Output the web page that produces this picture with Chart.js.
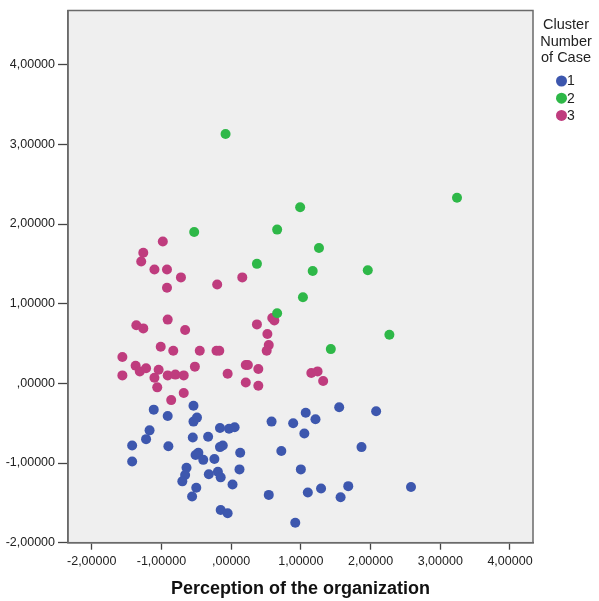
<!DOCTYPE html>
<html><head><meta charset="utf-8">
<script src="https://cdn.jsdelivr.net/npm/chart.js@4.4.1/dist/chart.umd.min.js"></script>
<style>html,body{margin:0;padding:0;background:#fff;overflow:hidden}#wrap{width:599px;height:601px;position:relative}</style>
</head><body><div id="wrap"><canvas id="c" width="599" height="601"></canvas></div>
<script>
const clusterLabels = ['1', '2', '3'];
const clusterColors = ['#3d57ae', '#2eb848', '#bf3c7e'];

const cluster1X = [-1.11,-0.91,-0.54,-0.54,-0.49,-1.17,-1.22,-0.55,-0.33,-0.16,-0.03,0.05,0.58,0.89,-1.42,-1.42,-0.90,-0.12,-0.16,0.13,-0.47,-0.51,-0.40,-0.24,-0.64,-0.66,-0.70,-0.32,-0.19,-0.15,0.12,-0.50,-0.56,0.02,0.54,0.72,-0.15,-0.05,0.92,1.00,1.05,1.87,1.10,1.29,1.57,1.68,2.58,1.55,2.08,1.07,1.21];
const cluster1Y = [-0.33,-0.41,-0.28,-0.48,-0.43,-0.59,-0.70,-0.68,-0.67,-0.56,-0.57,-0.55,-0.48,-0.50,-0.78,-0.98,-0.79,-0.78,-0.80,-0.87,-0.87,-0.90,-0.96,-0.95,-1.06,-1.15,-1.23,-1.14,-1.11,-1.18,-1.08,-1.31,-1.42,-1.27,-1.40,-0.85,-1.59,-1.63,-1.75,-1.08,-0.63,-0.80,-1.37,-1.32,-1.43,-1.29,-1.30,-0.30,-0.35,-0.37,-0.45];

const cluster2X = [-0.08,3.24,0.99,-0.53,0.66,1.26,0.37,1.17,1.96,1.03,0.66,2.27,1.43];
const cluster2Y = [3.13,2.33,2.21,1.90,1.93,1.70,1.50,1.41,1.42,1.08,0.88,0.61,0.43];

const cluster3X = [-0.98,-1.26,-1.29,-1.10,-0.92,-0.72,-0.92,-0.20,0.16,-1.36,-1.26,-0.91,-0.66,0.37,0.52,0.59,0.62,0.54,0.51,-1.01,-0.83,-0.45,-0.21,-0.17,-1.56,-1.56,-1.37,-1.31,-1.22,-1.04,-1.10,-0.91,-0.80,-0.68,-0.52,-1.06,-0.68,-0.86,-0.05,0.21,0.24,0.21,0.39,0.39,1.15,1.24,1.32];
const cluster3Y = [1.78,1.64,1.53,1.43,1.43,1.33,1.20,1.24,1.33,0.73,0.69,0.80,0.67,0.74,0.62,0.82,0.79,0.48,0.41,0.46,0.41,0.41,0.41,0.41,0.33,0.10,0.22,0.15,0.19,0.17,0.07,0.10,0.11,0.10,0.21,-0.05,-0.12,-0.21,0.12,0.23,0.23,0.01,0.18,-0.03,0.13,0.15,0.03];

const xTickValues = [-2, -1, 0, 1, 2, 3, 4];
const xTickLabels = ['-2,00000', '-1,00000', ',00000', '1,00000', '2,00000', '3,00000', '4,00000'];
const yTickValues = [-2, -1, 0, 1, 2, 3, 4];
const yTickLabels = ['-2,00000', '-1,00000', ',00000', '1,00000', '2,00000', '3,00000', '4,00000'];
const xAxisTitle = 'Perception of the organization';
const legendTitleLines = ['Cluster', 'Number', 'of Case'];

const FONT = 'Arial, "Liberation Sans", sans-serif';

function pts(xs, ys) { return xs.map((x, i) => ({ x: x, y: ys[i] })); }

const framePlugin = {
  id: 'frame',
  beforeDraw(chart) {
    const a = chart.chartArea, ctx = chart.ctx;
    ctx.save();
    ctx.fillStyle = '#efefef';
    ctx.fillRect(a.left, a.top, a.right - a.left, a.bottom - a.top);
    ctx.restore();
  },
  afterDraw(chart) {
    const a = chart.chartArea, ctx = chart.ctx;
    ctx.save();
    ctx.strokeStyle = '#6a6a6a';
    ctx.lineWidth = 1.5;
    ctx.strokeRect(a.left, a.top, a.right - a.left, a.bottom - a.top);
    // legend
    ctx.fillStyle = '#222';
    ctx.textAlign = 'center';
    ctx.textBaseline = 'middle';
    ctx.font = '14.5px ' + FONT;
    const cx = 566;
    legendTitleLines.forEach((t, i) => ctx.fillText(t, cx, 25 + i * 16.7));
    ctx.textAlign = 'left';
    ctx.font = '14px ' + FONT;
    clusterLabels.forEach((lab, i) => {
      const y = 81 + i * 17.2;
      ctx.beginPath();
      ctx.fillStyle = clusterColors[i];
      ctx.arc(561.5, y, 5.5, 0, Math.PI * 2);
      ctx.fill();
      ctx.fillStyle = '#222';
      ctx.fillText(lab, 567, y + 0.5);
    });
    ctx.restore();
  }
};

new Chart(document.getElementById('c'), {
  type: 'scatter',
  data: {
    datasets: [
      { label: clusterLabels[0], data: pts(cluster1X, cluster1Y), backgroundColor: clusterColors[0], borderColor: clusterColors[0] },
      { label: clusterLabels[1], data: pts(cluster2X, cluster2Y), backgroundColor: clusterColors[1], borderColor: clusterColors[1] },
      { label: clusterLabels[2], data: pts(cluster3X, cluster3Y), backgroundColor: clusterColors[2], borderColor: clusterColors[2] }
    ]
  },
  options: {
    responsive: false,
    animation: false,
    devicePixelRatio: 1,
    layout: { padding: { top: 8.3, right: 66, bottom: 1, left: 0 } },
    plugins: { legend: { display: false }, tooltip: { enabled: false } },
    elements: { point: { radius: 5, hoverRadius: 5, borderWidth: 0 } },
    scales: {
      x: {
        type: 'linear', min: -2.34, max: 4.33,
        afterBuildTicks: s => { s.ticks = xTickValues.map(v => ({ value: v })); },
        afterFit: s => { s.height = 57.3; },
        grid: { drawOnChartArea: false, drawTicks: true, tickLength: 7, tickColor: '#444', tickWidth: 1.3 },
        border: { display: true, color: '#6a6a6a', width: 1.5 },
        ticks: { padding: 4, color: '#222', font: { family: FONT, size: 12.5 }, maxRotation: 0, autoSkip: false,
          callback: v => xTickLabels[xTickValues.indexOf(v)] },
        title: { display: true, text: xAxisTitle, color: '#111', font: { family: FONT, size: 18, weight: 'bold' }, padding: { top: 0, bottom: 0 } }
      },
      y: {
        type: 'linear', min: -2, max: 4.68,
        afterBuildTicks: s => { s.ticks = yTickValues.map(v => ({ value: v })); },
        afterFit: s => { s.width = 68; },
        grid: { drawOnChartArea: false, drawTicks: true, tickLength: 10, tickColor: '#444', tickWidth: 1.3 },
        border: { display: true, color: '#6a6a6a', width: 1.5 },
        ticks: { padding: 3, color: '#222', font: { family: FONT, size: 12.5 }, autoSkip: false,
          callback: v => yTickLabels[yTickValues.indexOf(v)] }
      }
    }
  },
  plugins: [framePlugin]
});
</script>
</body></html>
